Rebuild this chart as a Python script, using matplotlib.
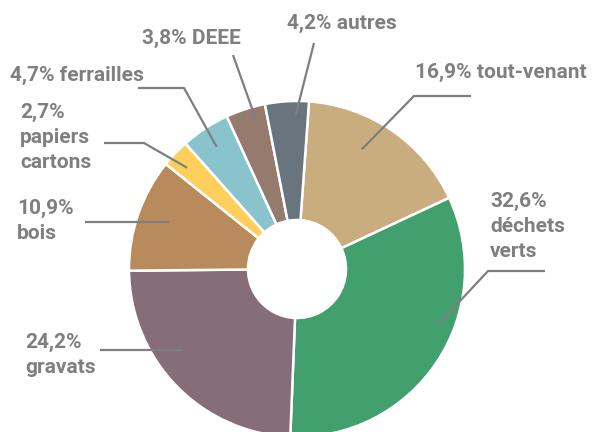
import numpy as np
import matplotlib
matplotlib.use('Agg')
import matplotlib.pyplot as plt

# data
categories = ['tout-venant', 'déchets\nverts', 'gravats', 'bois',
              'papiers\ncartons', 'ferrailles', 'DEEE', 'autres']
shares = [16.9, 32.6, 24.2, 10.9, 2.7, 4.7, 3.8, 4.2]
colors = ['#C9AD7F', '#42A06E', '#866E79', '#B98A5C',
          '#FFCF5C', '#89C4CD', '#957B6E', '#68757F']
# label layout: single line (True) or pct on its own line
one_line = [True, False, False, False, False, True, True, True]

W, H = 594, 432
def px(x, y):
    # pixel coords (top-left origin) -> data coords
    return x, H - y

plt.rcParams['font.family'] = ['Roboto', 'DejaVu Sans']
fig = plt.figure(figsize=(W / 100, H / 100), dpi=100)
ax = fig.add_axes([0, 0, 1, 1])

cx, cy = px(297, 269)
R, r_hole = 168, 49
wedges, _ = ax.pie(shares, colors=colors, center=(cx, cy), radius=R,
                   startangle=85.9, counterclock=False,
                   wedgeprops=dict(width=R - r_hole, edgecolor='white', linewidth=1.8))

# leader anchor: fraction along wedge (theta1->theta2) and radius fraction
anchor_frac = [0.60, 0.60, 0.40, 0.47, 0.59, 0.51, 0.31, 0.30]
anchor_rad = [0.81, 0.90, 0.83, 0.81, 0.89, 0.87, 0.90, 0.92]
# leader path after the anchor (pixel coords)
leader_pts = [[(414, 96), (471, 96)],
              [(488, 271), (545, 271)],
              [(100, None)],
              [(85, None)],
              [(144, 143), (104, 143)],
              [(184, 88), (138, 88)],
              [(233, 55)],
              [(314, 43)]]
text_pos = [(415, 72), (490, 226), (25, 355), (17, 221),
            (20, 137), (10, 75), (142, 38), (287, 23)]

grey = '#7F7F7F'
for i, w in enumerate(wedges):
    t1, t2 = w.theta1, w.theta2
    ang = np.deg2rad(t1 + (t2 - t1) * anchor_frac[i])
    ax_, ay_ = cx + R * anchor_rad[i] * np.cos(ang), cy + R * anchor_rad[i] * np.sin(ang)
    xs, ys = [ax_], [ay_]
    for (x, y) in leader_pts[i]:
        if y is None:
            xs.append(x)
            ys.append(ay_)
        else:
            xd, yd = px(x, y)
            xs.append(xd)
            ys.append(yd)
    ax.plot(xs, ys, color=grey, lw=1.6, solid_capstyle='butt', zorder=3)

    pct = f'{shares[i]:.1f}%'.replace('.', ',')
    sep = ' ' if one_line[i] else '\n'
    label = pct + sep + categories[i]
    tx, ty = px(*text_pos[i])
    ax.text(tx, ty, label, ha='left', va='center', color=grey,
            fontsize=15, fontweight='bold', linespacing=1.4)

ax.set_xlim(0, W)
ax.set_ylim(0, H)
ax.set_aspect('auto')
ax.axis('off')

fig.savefig('out.png', dpi=100)
